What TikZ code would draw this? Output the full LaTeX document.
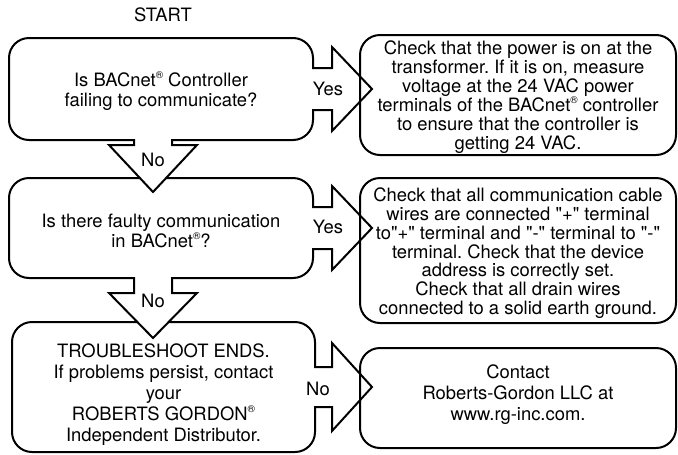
\documentclass[tikz,border=0pt]{standalone}
\usepackage{fontspec}
\setmainfont{TeX Gyre Heros}[Ligatures=TeXOff]
\usetikzlibrary{calc}
\frenchspacing
\newcommand{\rmark}{\raisebox{0.42em}{\fontsize{7.5}{7.5}\selectfont ®}}
% shift a centred block of text down (first line) or up (last line) by #1
\newcommand{\dn}[1]{\rule{0pt}{\dimexpr 10pt+2\dimexpr #1\relax\relax}}
\newcommand{\up}[1]{\rule[-\dimexpr 3pt+2\dimexpr #1\relax\relax]{0pt}{0pt}}
% right-going arrow: #1 source, #2 target, #3 shaft length, #4 shaft half, #5 head half
\newcommand{\sidearrow}[5]{%
  \fill[white] ($(#1.east)+(-2,-#4)$) rectangle ($(#1.east)+(#3,#4)$);
  \draw[line cap=rect] ($(#1.east)+(0,-#4)$) -- ++(#3,0) -- ++(0,#4-#5)
     -- ($(#1.east -| #2.west)+(12,0)$)
     -- ($(#1.east)+(#3,#5)$) -- ++(0,#4-#5) -- ($(#1.east)+(0,#4)$);}
% down-going arrow: #1 source, #2 shaft length, #3 head length
\newcommand{\downarrowshape}[3]{%
  \coordinate (S) at ($(#1.south)+(-8,0)$);
  \fill[white] ($(S)+(-19,-2)$) -- ($(S)+(-19,#2)$) -- ($(S)+(-44,#2)$)
     -- ($(S)+(0,#2+#3)$) -- ($(S)+(44,#2)$) -- ($(S)+(19,#2)$) -- ($(S)+(19,-2)$) -- cycle;
  \draw[line cap=rect] ($(S)+(-19,0)$) -- ($(S)+(-19,#2)$) -- ($(S)+(-44,#2)$)
     -- ($(S)+(0,#2+#3)$) -- ($(S)+(44,#2)$) -- ($(S)+(19,#2)$) -- ($(S)+(19,0)$);}
\begin{document}
\begin{tikzpicture}[x=0.75pt,y=-0.75pt, line width=1.5pt, line join=miter,
  box/.style={draw, rounded corners=15pt, align=center, inner sep=0pt, outer sep=0pt},
  lbl/.style={inner sep=0pt, font=\fontsize{13.8}{15}\selectfont}]
\useasboundingbox (0,0) rectangle (678,454);

\node[lbl] (start) at (163,15) {START};

\node[box, minimum width=228pt, minimum height=76.5pt, font=\fontsize{13.8}{15}\selectfont]
  (q1) at (161,89) {\dn{2.25pt}Is BACnet\rmark{} Controller\\failing to communicate?};
\node[box, minimum width=228pt, minimum height=75pt, font=\fontsize{13.8}{14.3}\selectfont]
  (q2) at (161,228) {\dn{2.25pt}Is there faulty communication\\in BACnet\rmark?};
\node[box, minimum width=227.25pt, minimum height=97.5pt, font=\fontsize{13.8}{15.75}\selectfont]
  (q3) at (163.5,387) {\dn{6pt}TROUBLESHOOT ENDS.\\If problems persist, contact\\your\\ROBERTS GORDON\rmark\\Independent Distributor.};

\node[box, minimum width=237pt, minimum height=90pt, font=\fontsize{13.8}{14.25}\selectfont]
  (r1) at (518,95) {\dn{1.5pt}Check that the power is on at the\\transformer. If it is on, measure\\voltage at the 24 VAC power\\terminals of the BACnet\rmark{} controller\\to ensure that the controller is\\getting 24 VAC.};
\node[box, minimum width=237pt, minimum height=108.75pt, font=\fontsize{13.8}{14.1}\selectfont]
  (r2) at (518,250.5) {\dn{2.25pt}Check that all communication cable\\wires are connected "+" terminal\\to"+" terminal and "-" terminal to "-"\\terminal. Check that the device\\address is correctly set.\\Check that all drain wires\\connected to a solid earth ground.};
\node[box, minimum width=237pt, minimum height=75pt, font=\fontsize{13.8}{15.75}\selectfont]
  (r3) at (518,398) {Contact\\Roberts-Gordon LLC at\\www.rg-inc.com.\up{2.25pt}};

\sidearrow{q1}{r1}{19}{21}{42}
\sidearrow{q2}{r2}{19}{21}{42}
\sidearrow{q3}{r3}{17}{20}{44}
\downarrowshape{q1}{5}{47}
\downarrowshape{q2}{15}{45}

\node[lbl] (yes1) at ($(q1.east)+(15,0)$) {Yes};
\node[lbl] (yes2) at ($(q2.east)+(15,-1)$) {Yes};
\node[lbl] (no3) at ($(q3.east)+(3,2)$) {No};
\node[lbl] (no1) at (153,160) {No};
\node[lbl] (no2) at (153,301) {No};
\end{tikzpicture}
\end{document}
